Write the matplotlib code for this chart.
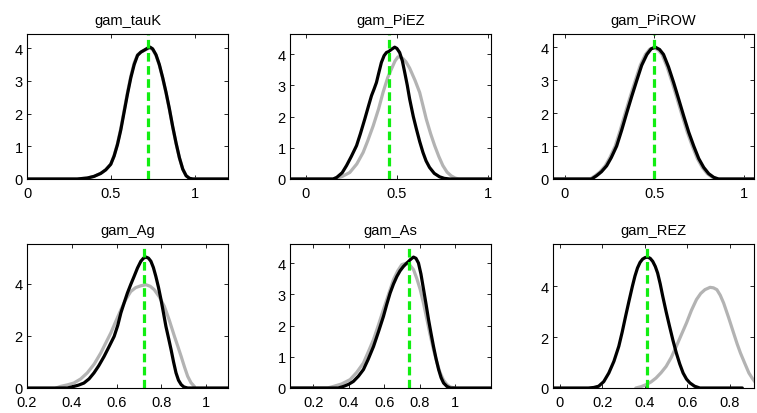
import matplotlib.pyplot as plt
from matplotlib.ticker import FuncFormatter

# parameter names
names = ['gam_tauK', 'gam_PiEZ', 'gam_PiROW', 'gam_Ag', 'gam_As', 'gam_REZ']

# posterior mode (green dashed)
modes = [0.72, 0.456, 0.50, 0.72, 0.743, 0.41]

# prior density (grey)
prior_x = [
    [0.0, 0.30, 0.36, 0.40, 0.44, 0.47, 0.50, 0.52, 0.54, 0.56, 0.58, 0.60, 0.62, 0.64, 0.66, 0.68, 0.70, 0.72, 0.735, 0.75, 0.77, 0.79, 0.81, 0.83, 0.85, 0.87, 0.89, 0.91, 0.93, 0.95, 0.97, 0.99, 1.2],
    [-0.086, 0.15, 0.20, 0.242, 0.28, 0.315, 0.34, 0.37, 0.40, 0.424, 0.45, 0.47, 0.49, 0.506, 0.52, 0.534, 0.55, 0.57, 0.60, 0.625, 0.645, 0.661, 0.685, 0.707, 0.73, 0.752, 0.775, 0.798, 0.82, 0.84, 1.016],
    [-0.066, 0.142, 0.17, 0.197, 0.226, 0.252, 0.282, 0.31, 0.338, 0.367, 0.395, 0.422, 0.451, 0.475, 0.498, 0.522, 0.544, 0.572, 0.601, 0.629, 0.657, 0.685, 0.713, 0.741, 0.769, 0.797, 0.825, 0.852, 1.058],
    [0.33, 0.349, 0.38, 0.409, 0.44, 0.469, 0.50, 0.529, 0.55, 0.574, 0.596, 0.619, 0.64, 0.663, 0.685, 0.708, 0.731, 0.75, 0.768, 0.79, 0.813, 0.835, 0.858, 0.873, 0.888, 0.903, 0.917, 0.932, 0.947],
    [0.068, 0.28, 0.313, 0.36, 0.408, 0.445, 0.483, 0.51, 0.54, 0.568, 0.596, 0.625, 0.653, 0.677, 0.70, 0.728, 0.747, 0.766, 0.785, 0.804, 0.823, 0.842, 0.86, 0.879, 0.898, 0.917, 0.936, 0.955, 0.975, 1.0],
    [0.358, 0.382, 0.406, 0.43, 0.453, 0.477, 0.501, 0.525, 0.549, 0.573, 0.597, 0.62, 0.644, 0.664, 0.684, 0.708, 0.724, 0.74, 0.756, 0.772, 0.795, 0.819, 0.835, 0.851, 0.871, 0.891, 0.907, 0.923],
]
prior_y = [
    [0, 0, 0.03, 0.08, 0.17, 0.28, 0.45, 0.72, 1.08, 1.55, 2.1, 2.65, 3.15, 3.55, 3.8, 3.88, 3.93, 3.98, 4.0, 3.96, 3.78, 3.48, 3.08, 2.63, 2.13, 1.58, 1.08, 0.64, 0.3, 0.1, 0.02, 0, 0],
    [0, 0, 0.08, 0.21, 0.48, 0.85, 1.22, 1.7, 2.25, 2.77, 3.25, 3.52, 3.78, 3.91, 3.9, 3.85, 3.75, 3.55, 3.15, 2.77, 2.3, 1.92, 1.45, 1.07, 0.72, 0.43, 0.22, 0.1, 0.03, 0, 0],
    [0, 0, 0.1, 0.22, 0.4, 0.65, 1.0, 1.48, 2.0, 2.52, 3.0, 3.45, 3.78, 3.94, 3.98, 3.92, 3.78, 3.4, 2.92, 2.42, 1.91, 1.42, 1.0, 0.62, 0.35, 0.16, 0.05, 0, 0],
    [0, 0.06, 0.12, 0.19, 0.35, 0.58, 0.92, 1.34, 1.7, 2.11, 2.55, 3.0, 3.38, 3.7, 3.85, 3.92, 3.96, 3.9, 3.77, 3.5, 3.13, 2.6, 1.98, 1.6, 1.21, 0.8, 0.45, 0.2, 0.06],
    [0, 0, 0.05, 0.13, 0.27, 0.5, 0.8, 1.15, 1.55, 2.02, 2.51, 3.0, 3.47, 3.75, 3.95, 4.0, 3.92, 3.79, 3.5, 3.15, 2.7, 2.19, 1.7, 1.23, 0.82, 0.48, 0.25, 0.11, 0.03, 0],
    [0, 0.05, 0.13, 0.24, 0.39, 0.6, 0.85, 1.2, 1.64, 2.1, 2.56, 3.05, 3.48, 3.72, 3.87, 3.96, 3.94, 3.87, 3.65, 3.34, 2.78, 2.16, 1.75, 1.38, 0.98, 0.59, 0.38, 0.2],
]

# posterior density (black)
post_x = [
    [0.0, 0.30, 0.36, 0.40, 0.44, 0.47, 0.50, 0.52, 0.54, 0.56, 0.58, 0.60, 0.62, 0.64, 0.66, 0.68, 0.70, 0.72, 0.735, 0.75, 0.77, 0.79, 0.81, 0.83, 0.85, 0.87, 0.89, 0.91, 0.93, 0.95, 0.97, 0.99, 1.2],
    [-0.086, 0.15, 0.17, 0.20, 0.224, 0.25, 0.279, 0.30, 0.324, 0.345, 0.361, 0.375, 0.388, 0.40, 0.415, 0.43, 0.443, 0.455, 0.47, 0.488, 0.50, 0.515, 0.53, 0.543, 0.557, 0.57, 0.59, 0.607, 0.625, 0.643, 0.66, 0.679, 0.705, 0.734, 0.76, 0.79, 1.016],
    [-0.066, 0.15, 0.178, 0.205, 0.234, 0.26, 0.29, 0.318, 0.346, 0.375, 0.403, 0.43, 0.459, 0.483, 0.506, 0.53, 0.552, 0.58, 0.609, 0.637, 0.665, 0.693, 0.721, 0.749, 0.777, 0.805, 0.833, 0.86, 1.058],
    [0.2, 0.38, 0.409, 0.43, 0.454, 0.477, 0.499, 0.52, 0.544, 0.567, 0.589, 0.605, 0.619, 0.634, 0.648, 0.663, 0.678, 0.693, 0.708, 0.72, 0.731, 0.742, 0.753, 0.764, 0.775, 0.787, 0.798, 0.809, 0.82, 0.832, 0.843, 0.854, 0.865, 0.876, 0.888, 0.90, 0.917, 1.097],
    [0.068, 0.34, 0.37, 0.40, 0.426, 0.455, 0.483, 0.51, 0.54, 0.568, 0.596, 0.615, 0.634, 0.653, 0.672, 0.69, 0.709, 0.723, 0.738, 0.752, 0.766, 0.78, 0.794, 0.808, 0.823, 0.837, 0.851, 0.865, 0.879, 0.893, 0.908, 0.922, 0.936, 0.955, 0.974, 1.204],
    [-0.032, 0.135, 0.16, 0.183, 0.207, 0.231, 0.255, 0.278, 0.294, 0.31, 0.326, 0.342, 0.354, 0.366, 0.378, 0.39, 0.402, 0.414, 0.426, 0.438, 0.45, 0.461, 0.473, 0.485, 0.501, 0.517, 0.533, 0.549, 0.565, 0.581, 0.597, 0.613, 0.635, 0.66, 0.86],
]
post_y = [
    [0, 0, 0.03, 0.08, 0.17, 0.28, 0.45, 0.7, 1.05, 1.5, 2.05, 2.6, 3.1, 3.5, 3.78, 3.88, 3.94, 4.0, 4.03, 3.98, 3.8, 3.5, 3.1, 2.65, 2.15, 1.6, 1.1, 0.65, 0.3, 0.1, 0.02, 0, 0],
    [0, 0, 0.05, 0.2, 0.43, 0.72, 1.07, 1.45, 1.92, 2.35, 2.67, 2.88, 3.09, 3.38, 3.73, 3.95, 4.05, 4.08, 4.15, 4.22, 4.18, 4.05, 3.78, 3.41, 3.0, 2.56, 2.0, 1.6, 1.2, 0.85, 0.58, 0.37, 0.18, 0.07, 0.02, 0, 0],
    [0, 0, 0.1, 0.22, 0.4, 0.65, 1.0, 1.48, 2.0, 2.52, 3.0, 3.45, 3.78, 3.95, 4.0, 3.93, 3.78, 3.4, 2.92, 2.42, 1.91, 1.42, 1.0, 0.62, 0.35, 0.16, 0.05, 0, 0],
    [0, 0, 0.06, 0.11, 0.19, 0.35, 0.58, 0.85, 1.21, 1.6, 1.98, 2.4, 2.88, 3.28, 3.64, 3.97, 4.28, 4.6, 4.86, 4.98, 5.02, 4.98, 4.86, 4.62, 4.28, 3.85, 3.39, 2.88, 2.36, 1.9, 1.47, 1.0, 0.58, 0.3, 0.13, 0.04, 0, 0],
    [0, 0, 0.05, 0.12, 0.21, 0.38, 0.59, 0.92, 1.33, 1.8, 2.29, 2.68, 3.04, 3.33, 3.57, 3.75, 3.89, 3.97, 4.05, 4.13, 4.19, 4.15, 4.0, 3.65, 3.15, 2.68, 2.19, 1.75, 1.33, 0.95, 0.59, 0.33, 0.16, 0.05, 0, 0],
    [0, 0, 0.02, 0.07, 0.25, 0.59, 1.05, 1.64, 2.2, 2.82, 3.42, 4.0, 4.4, 4.72, 4.94, 5.07, 5.13, 5.15, 5.1, 4.98, 4.78, 4.52, 4.1, 3.61, 3.0, 2.43, 1.88, 1.38, 0.95, 0.59, 0.35, 0.2, 0.07, 0, 0],
]

# axis ranges and ticks
x_limits = [(0, 1.2), (-0.086, 1.016), (-0.066, 1.058), (0.2, 1.097), (0.068, 1.204), (-0.032, 0.915)]
x_ticks = [[0, 0.5, 1], [0, 0.5, 1], [0, 0.5, 1],
           [0.2, 0.4, 0.6, 0.8, 1], [0.2, 0.4, 0.6, 0.8, 1], [0, 0.2, 0.4, 0.6, 0.8]]
y_ticks = [[0, 1, 2, 3, 4], [0, 1, 2, 3, 4], [0, 1, 2, 3, 4],
           [0, 2, 4], [0, 1, 2, 3, 4], [0, 2, 4]]

plt.rcParams['font.family'] = ['Liberation Sans', 'DejaVu Sans']

fig = plt.figure(figsize=(7.57, 4.14), dpi=100)
W, H = 757.0, 414.0
lefts = [27, 290, 553]
rows = [(35, 180), (245, 389)]

fmt = FuncFormatter(lambda v, p: '%g' % round(v, 3))

for i in range(6):
    r, c = divmod(i, 3)
    top, bot = rows[r]
    ax = fig.add_axes([lefts[c] / W, 1 - bot / H, 201 / W, (bot - top) / H])
    ax.plot(prior_x[i], prior_y[i], color='#b3b3b3', lw=2.3, solid_joinstyle='round', solid_capstyle='round')
    ax.plot(post_x[i], post_y[i], color='black', lw=2.3, solid_joinstyle='round', solid_capstyle='round')
    ymax = 1.1 * max(max(post_y[i]), max(prior_y[i]))
    ax.plot([modes[i], modes[i]], [0, ymax], color='#11ee11', lw=2.3, dashes=(2.7, 1.4))
    ax.set_xlim(*x_limits[i])
    ax.set_ylim(0, ymax)
    ax.set_xticks(x_ticks[i])
    ax.set_yticks(y_ticks[i])
    ax.xaxis.set_major_formatter(fmt)
    ax.yaxis.set_major_formatter(fmt)
    ax.tick_params(direction='in', top=True, right=True, length=3, width=0.6, labelsize=10.5)
    ax.tick_params(axis='x', pad=5)
    ax.tick_params(axis='y', pad=3)
    for s in ax.spines.values():
        s.set_linewidth(0.8)
    ax.set_title(names[i], fontsize=10.5, pad=7)

fig.savefig('out.png', dpi=100)
